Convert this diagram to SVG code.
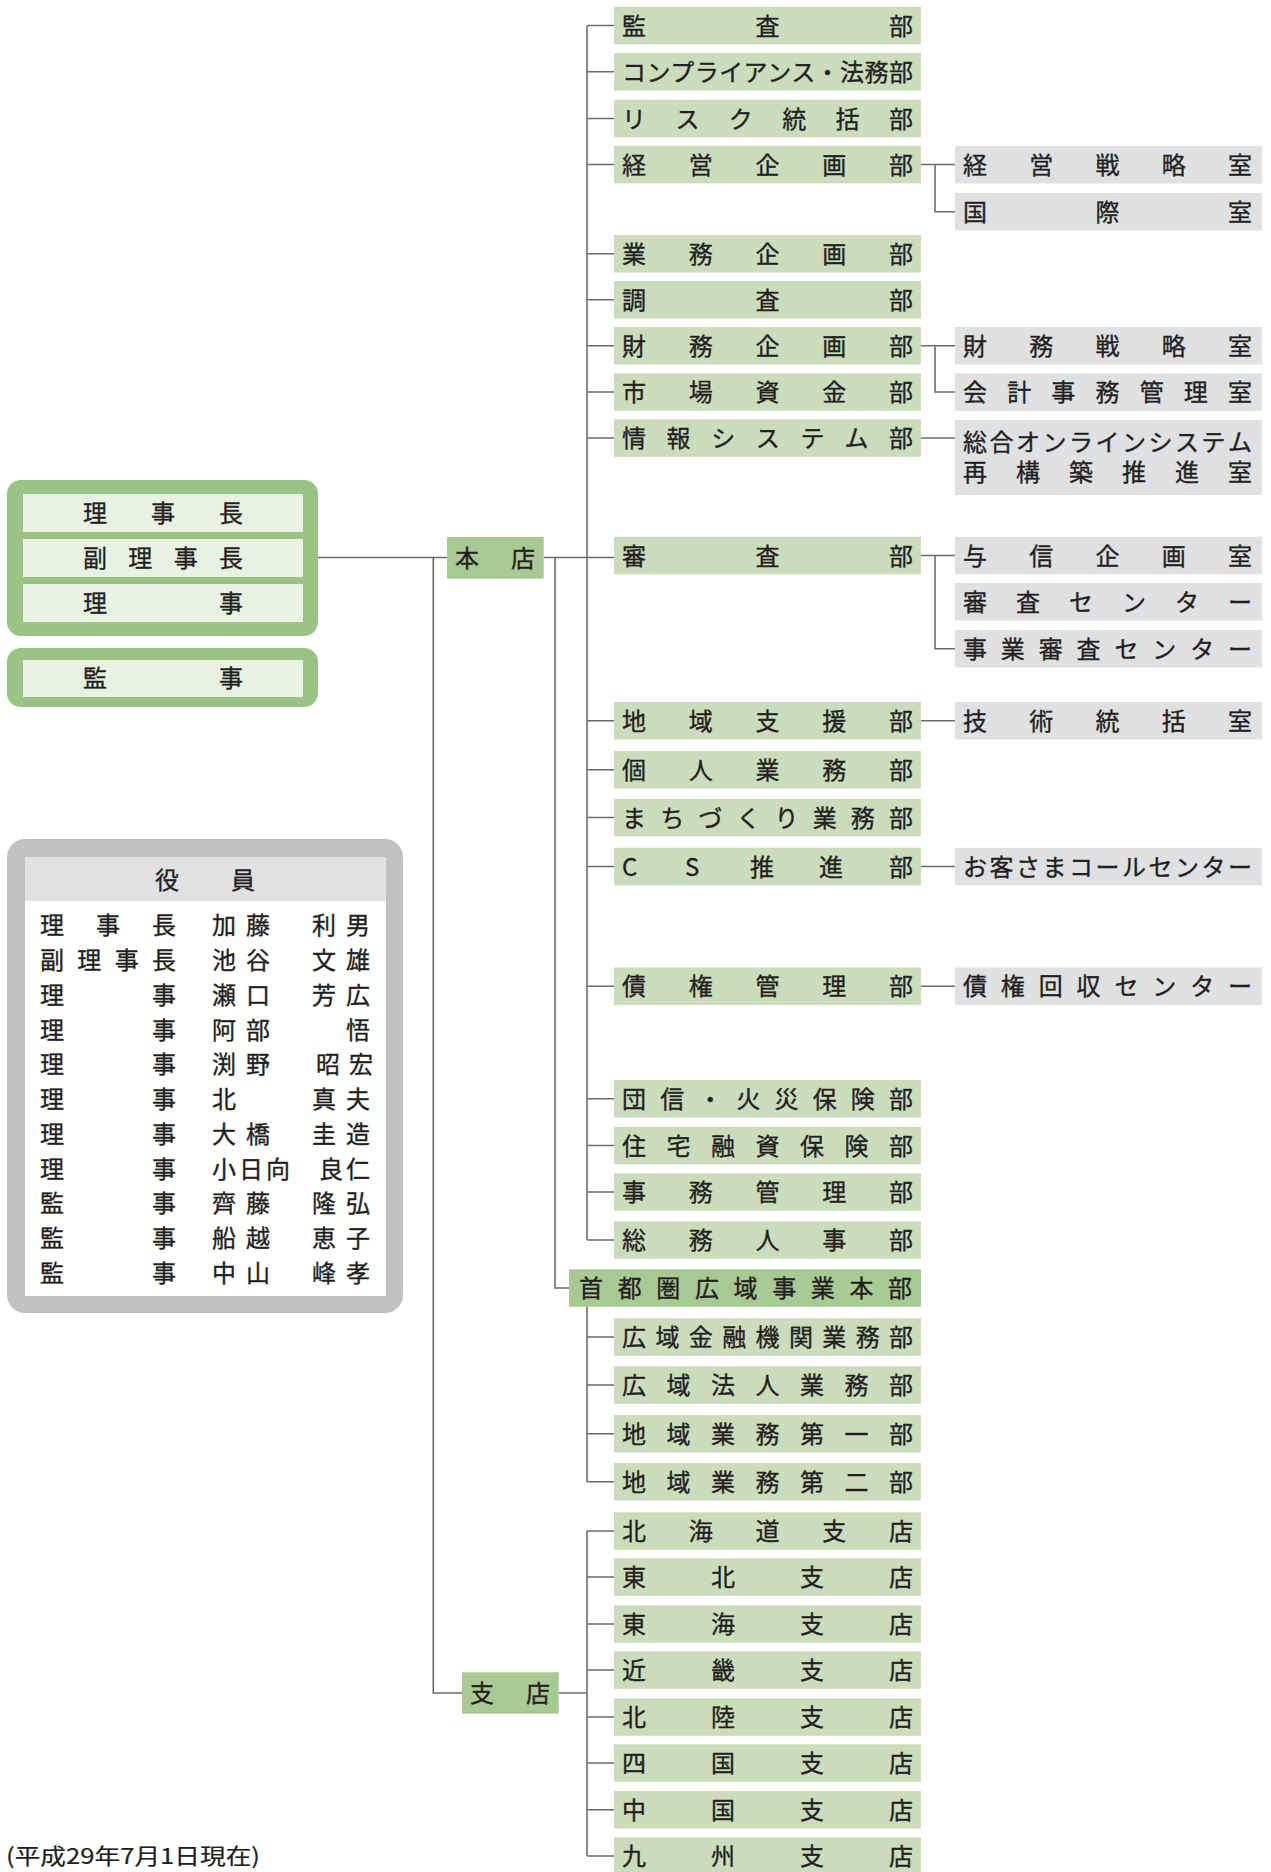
<svg xmlns="http://www.w3.org/2000/svg" width="1271" height="1872" viewBox="0 0 1271 1872">
<style>
text{font-family:"Noto Sans CJK JP","Noto Sans CJK SC",sans-serif;font-size:24px;fill:#231f20;stroke:#231f20;stroke-width:0.35;}
.g{fill:#cbdcbc;}
.d{fill:#a9c994;}
.y{fill:#dfe0e2;}
.bo{fill:#9cc386;}
.bi{fill:#e8f1e2;}
.c path{fill:none;stroke:#6b6b6b;stroke-width:1.6;}
</style>
<rect width="1271" height="1872" fill="#ffffff"/>

<g id="connectors" class="c">
<path d="M318 557.5H447M543.7 557.5H614"/>
<path d="M433.3 557.5V1693H462"/>
<path d="M555 557.5V1288H569"/>
<path d="M587 25.5V1240"/>
<path d="M587 25.5H614M587 71.7H614M587 118.5H614M587 164.5H614M587 253.8H614M587 299.8H614M587 345.8H614M587 392H614M587 438H614M587 720.8H614M587 769.7H614M587 817.5H614M587 866.5H614M587 986.3H614M587 1098.7H614M587 1145.5H614M587 1192H614M587 1240H614"/>
<path d="M587 1306.7V1481.7M587 1337H614M587 1385H614M587 1433.7H614M587 1481.7H614"/>
<path d="M558.7 1693H587M587 1531V1856M587 1531H614M587 1577H614M587 1624H614M587 1670H614M587 1717H614M587 1763H614M587 1809.7H614M587 1856H614"/>
<path d="M921 164.5H955M935 164.5V211.7H955"/>
<path d="M921 345.8H955M935 345.8V392H955"/>
<path d="M921 438H955"/>
<path d="M921 555.5H955M935 555.5V648.8H955"/>
<path d="M921 720.8H955M921 866.5H955M921 986.3H955"/>
</g>

<g id="board">
<rect class="bo" x="7" y="480" width="311" height="156" rx="14"/>
<rect class="bi" x="23" y="494" width="280" height="38"/>
<rect class="bi" x="23" y="539" width="280" height="38"/>
<rect class="bi" x="23" y="584" width="280" height="38"/>
<text x="83" y="522" textLength="160" lengthAdjust="spacing">理事長</text>
<text x="83" y="567" textLength="160" lengthAdjust="spacing">副理事長</text>
<text x="83" y="612" textLength="160" lengthAdjust="spacing">理事</text>
</g>
<g id="auditor">
<rect class="bo" x="7" y="648" width="311" height="59" rx="14"/>
<rect class="bi" x="23" y="660" width="280" height="37"/>
<text x="83" y="687" textLength="160" lengthAdjust="spacing">監事</text>
</g>

<g id="officers">
<rect x="7" y="839" width="396" height="474" rx="18" fill="#c0c1c3"/>
<rect x="25" y="857" width="361" height="439" fill="#ffffff"/>
<rect x="25" y="857" width="361" height="44" fill="#e0e1e3"/>
<text x="155" y="889" textLength="100" lengthAdjust="spacing">役員</text>
<text x="40" y="934" textLength="136" lengthAdjust="spacing">理事長</text>
<text x="40" y="969" textLength="136" lengthAdjust="spacing">副理事長</text>
<text x="40" y="1004" textLength="136" lengthAdjust="spacing">理事</text>
<text x="40" y="1039" textLength="136" lengthAdjust="spacing">理事</text>
<text x="40" y="1073" textLength="136" lengthAdjust="spacing">理事</text>
<text x="40" y="1108" textLength="136" lengthAdjust="spacing">理事</text>
<text x="40" y="1143" textLength="136" lengthAdjust="spacing">理事</text>
<text x="40" y="1178" textLength="136" lengthAdjust="spacing">理事</text>
<text x="40" y="1212" textLength="136" lengthAdjust="spacing">監事</text>
<text x="40" y="1247" textLength="136" lengthAdjust="spacing">監事</text>
<text x="40" y="1282" textLength="136" lengthAdjust="spacing">監事</text>
<text x="212" y="934" textLength="58" lengthAdjust="spacing">加藤</text>
<text x="212" y="969" textLength="58" lengthAdjust="spacing">池谷</text>
<text x="212" y="1004" textLength="58" lengthAdjust="spacing">瀬口</text>
<text x="212" y="1039" textLength="58" lengthAdjust="spacing">阿部</text>
<text x="212" y="1073" textLength="58" lengthAdjust="spacing">渕野</text>
<text x="212" y="1108">北</text>
<text x="212" y="1143" textLength="58" lengthAdjust="spacing">大橋</text>
<text x="212" y="1178" textLength="78" lengthAdjust="spacing">小日向</text>
<text x="212" y="1212" textLength="58" lengthAdjust="spacing">齊藤</text>
<text x="212" y="1247" textLength="58" lengthAdjust="spacing">船越</text>
<text x="212" y="1282" textLength="58" lengthAdjust="spacing">中山</text>
<text x="312" y="934" textLength="58" lengthAdjust="spacing">利男</text>
<text x="312" y="969" textLength="58" lengthAdjust="spacing">文雄</text>
<text x="312" y="1004" textLength="58" lengthAdjust="spacing">芳広</text>
<text x="346" y="1039">悟</text>
<text x="316" y="1073" textLength="57" lengthAdjust="spacing">昭宏</text>
<text x="312" y="1108" textLength="58" lengthAdjust="spacing">真夫</text>
<text x="312" y="1143" textLength="58" lengthAdjust="spacing">圭造</text>
<text x="319" y="1178" textLength="51" lengthAdjust="spacing">良仁</text>
<text x="312" y="1212" textLength="58" lengthAdjust="spacing">隆弘</text>
<text x="312" y="1247" textLength="58" lengthAdjust="spacing">恵子</text>
<text x="312" y="1282" textLength="58" lengthAdjust="spacing">峰孝</text>
</g>

<g id="honten"><rect class="d" x="447" y="537" width="96.7" height="41.7"/><text x="455" y="566.5" textLength="80" lengthAdjust="spacing">本店</text></g>
<g id="shiten"><rect class="d" x="462" y="1672.3" width="96.7" height="41.4"/><text x="470" y="1702" textLength="80" lengthAdjust="spacing">支店</text></g>

<g id="kansa"><rect class="g" x="614" y="6.8" width="307" height="37.5"/><text x="622" y="34.5" textLength="291" lengthAdjust="spacing">監査部</text></g>
<g id="compliance"><rect class="g" x="614" y="53" width="307" height="37.5"/><text x="622" y="80.7" textLength="291" lengthAdjust="spacing">コンプライアンス・法務部</text></g>
<g id="risk"><rect class="g" x="614" y="99.8" width="307" height="37.5"/><text x="622" y="127.5" textLength="291" lengthAdjust="spacing">リスク統括部</text></g>
<g id="keiei"><rect class="g" x="614" y="145.8" width="307" height="37.5"/><text x="622" y="173.5" textLength="291" lengthAdjust="spacing">経営企画部</text></g>
<g id="gyomu"><rect class="g" x="614" y="235" width="307" height="37.5"/><text x="622" y="262.8" textLength="291" lengthAdjust="spacing">業務企画部</text></g>
<g id="chosa"><rect class="g" x="614" y="281" width="307" height="37.5"/><text x="622" y="308.8" textLength="291" lengthAdjust="spacing">調査部</text></g>
<g id="zaimu"><rect class="g" x="614" y="327" width="307" height="37.5"/><text x="622" y="354.8" textLength="291" lengthAdjust="spacing">財務企画部</text></g>
<g id="shijo"><rect class="g" x="614" y="373.3" width="307" height="37.5"/><text x="622" y="401" textLength="291" lengthAdjust="spacing">市場資金部</text></g>
<g id="joho"><rect class="g" x="614" y="419.3" width="307" height="37.5"/><text x="622" y="447" textLength="291" lengthAdjust="spacing">情報システム部</text></g>
<g id="shinsa"><rect class="g" x="614" y="536.8" width="307" height="37.5"/><text x="622" y="564.5" textLength="291" lengthAdjust="spacing">審査部</text></g>
<g id="chiiki"><rect class="g" x="614" y="702" width="307" height="37.5"/><text x="622" y="729.8" textLength="291" lengthAdjust="spacing">地域支援部</text></g>
<g id="kojin"><rect class="g" x="614" y="751" width="307" height="37.5"/><text x="622" y="778.7" textLength="291" lengthAdjust="spacing">個人業務部</text></g>
<g id="machi"><rect class="g" x="614" y="798.8" width="307" height="37.5"/><text x="622" y="826.5" textLength="291" lengthAdjust="spacing">まちづくり業務部</text></g>
<g id="cs"><rect class="g" x="614" y="847.8" width="307" height="37.5"/><text x="622 685 750 819 889" y="875.5">CS推進部</text></g>
<g id="saiken"><rect class="g" x="614" y="967.5" width="307" height="37.5"/><text x="622" y="995.3" textLength="291" lengthAdjust="spacing">債権管理部</text></g>
<g id="danshin"><rect class="g" x="614" y="1080" width="307" height="37.5"/><text x="622" y="1107.7" textLength="291" lengthAdjust="spacing">団信・火災保険部</text></g>
<g id="jutaku"><rect class="g" x="614" y="1126.8" width="307" height="37.5"/><text x="622" y="1154.5" textLength="291" lengthAdjust="spacing">住宅融資保険部</text></g>
<g id="jimu"><rect class="g" x="614" y="1173.3" width="307" height="37.5"/><text x="622" y="1201" textLength="291" lengthAdjust="spacing">事務管理部</text></g>
<g id="somu"><rect class="g" x="614" y="1221.3" width="307" height="37.5"/><text x="622" y="1249" textLength="291" lengthAdjust="spacing">総務人事部</text></g>
<g id="shutoken"><rect class="d" x="569" y="1269.3" width="352" height="37.5"/><text x="579" y="1297" textLength="333" lengthAdjust="spacing">首都圏広域事業本部</text></g>
<g id="kinyu"><rect class="g" x="614" y="1318.3" width="307" height="37.5"/><text x="622" y="1346" textLength="291" lengthAdjust="spacing">広域金融機関業務部</text></g>
<g id="hojin"><rect class="g" x="614" y="1366.3" width="307" height="37.5"/><text x="622" y="1394" textLength="291" lengthAdjust="spacing">広域法人業務部</text></g>
<g id="daiichi"><rect class="g" x="614" y="1415" width="307" height="37.5"/><text x="622" y="1442.7" textLength="291" lengthAdjust="spacing">地域業務第一部</text></g>
<g id="daini"><rect class="g" x="614" y="1463" width="307" height="37.5"/><text x="622" y="1490.7" textLength="291" lengthAdjust="spacing">地域業務第二部</text></g>

<g id="hokkaido"><rect class="g" x="614" y="1512.3" width="307" height="37.5"/><text x="622" y="1540" textLength="291" lengthAdjust="spacing">北海道支店</text></g>
<g id="tohoku"><rect class="g" x="614" y="1558.3" width="307" height="37.5"/><text x="622" y="1586" textLength="291" lengthAdjust="spacing">東北支店</text></g>
<g id="tokai"><rect class="g" x="614" y="1605.3" width="307" height="37.5"/><text x="622" y="1633" textLength="291" lengthAdjust="spacing">東海支店</text></g>
<g id="kinki"><rect class="g" x="614" y="1651.3" width="307" height="37.5"/><text x="622" y="1679" textLength="291" lengthAdjust="spacing">近畿支店</text></g>
<g id="hokuriku"><rect class="g" x="614" y="1698.3" width="307" height="37.5"/><text x="622" y="1726" textLength="291" lengthAdjust="spacing">北陸支店</text></g>
<g id="shikoku"><rect class="g" x="614" y="1744.3" width="307" height="37.5"/><text x="622" y="1772" textLength="291" lengthAdjust="spacing">四国支店</text></g>
<g id="chugoku"><rect class="g" x="614" y="1791" width="307" height="37.5"/><text x="622" y="1818.7" textLength="291" lengthAdjust="spacing">中国支店</text></g>
<g id="kyushu"><rect class="g" x="614" y="1837.3" width="307" height="37.5"/><text x="622" y="1865" textLength="291" lengthAdjust="spacing">九州支店</text></g>

<g id="senryaku"><rect class="y" x="955" y="146" width="307" height="37.5"/><text x="963" y="173.7" textLength="289" lengthAdjust="spacing">経営戦略室</text></g>
<g id="kokusai"><rect class="y" x="955" y="193" width="307" height="37.5"/><text x="963" y="220.7" textLength="289" lengthAdjust="spacing">国際室</text></g>
<g id="zaimusenryaku"><rect class="y" x="955" y="327" width="307" height="37.5"/><text x="963" y="354.8" textLength="289" lengthAdjust="spacing">財務戦略室</text></g>
<g id="kaikei"><rect class="y" x="955" y="373.3" width="307" height="37.5"/><text x="963" y="401" textLength="289" lengthAdjust="spacing">会計事務管理室</text></g>
<g id="online"><rect class="y" x="955" y="420" width="307" height="75"/><text><tspan x="963 989.5 1016 1042.5 1069 1095.5 1122 1148.5 1175 1201.5 1228" y="450.7">総合オンラインシステム</tspan><tspan x="963 1016 1069 1122 1175 1228" y="480.7">再構築推進室</tspan></text></g>
<g id="yoshin"><rect class="y" x="955" y="536.8" width="307" height="37.5"/><text x="963" y="564.5" textLength="289" lengthAdjust="spacing">与信企画室</text></g>
<g id="shinsacenter"><rect class="y" x="955" y="583" width="307" height="37.5"/><text x="963" y="610.7" textLength="289" lengthAdjust="spacing">審査センター</text></g>
<g id="jigyoshinsa"><rect class="y" x="955" y="630" width="307" height="37.5"/><text x="963" y="657.8" textLength="289" lengthAdjust="spacing">事業審査センター</text></g>
<g id="gijutsu"><rect class="y" x="955" y="702" width="307" height="37.5"/><text x="963" y="729.8" textLength="289" lengthAdjust="spacing">技術統括室</text></g>
<g id="callcenter"><rect class="y" x="955" y="847.8" width="307" height="37.5"/><text x="963" y="875.5" textLength="289" lengthAdjust="spacing">お客さまコールセンター</text></g>
<g id="kaishu"><rect class="y" x="955" y="967.5" width="307" height="37.5"/><text x="963" y="995.3" textLength="289" lengthAdjust="spacing">債権回収センター</text></g>

<text x="6" y="1864" textLength="254" lengthAdjust="spacingAndGlyphs" style="font-size:22px;stroke-width:0.2">(平成29年7月1日現在)</text>
</svg>
